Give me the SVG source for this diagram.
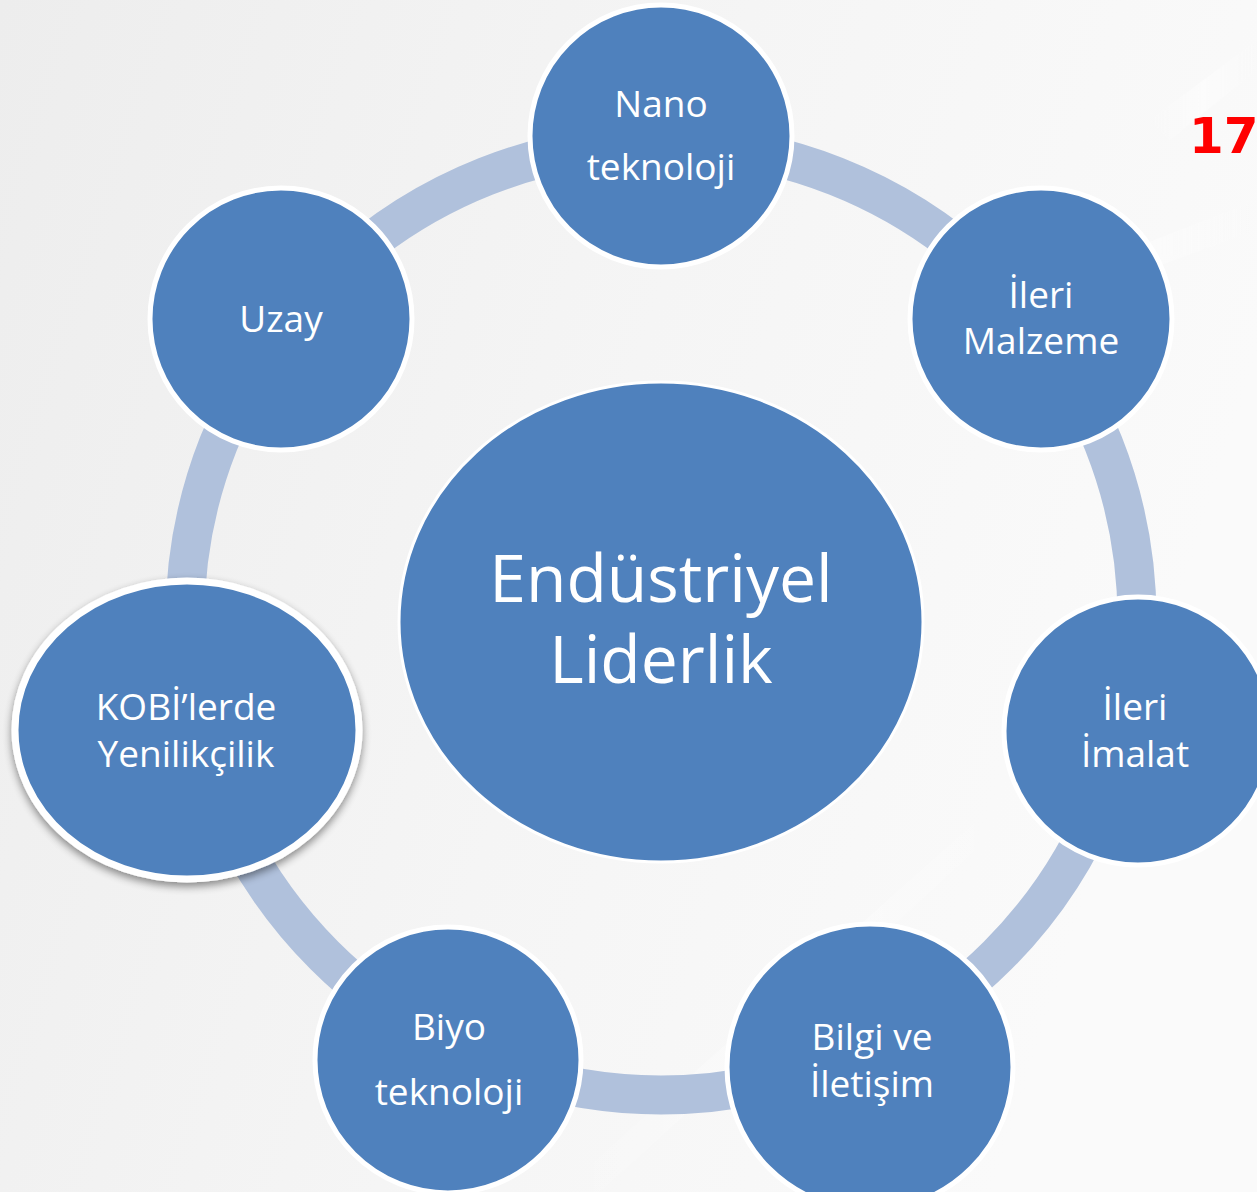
<svg xmlns="http://www.w3.org/2000/svg" width="1257" height="1192" viewBox="0 0 1257 1192">
<defs>
<linearGradient id="bg" x1="0" y1="0" x2="1" y2="0.3">
<stop offset="0" stop-color="#EDEDED"/>
<stop offset="0.55" stop-color="#F5F5F5"/>
<stop offset="1" stop-color="#FAFAFA"/>
</linearGradient>
<linearGradient id="streak" x1="0" y1="0" x2="1" y2="0">
<stop offset="0" stop-color="#FFFFFF" stop-opacity="0"/>
<stop offset="0.5" stop-color="#FFFFFF" stop-opacity="0.7"/>
<stop offset="1" stop-color="#FFFFFF" stop-opacity="0"/>
</linearGradient>
<filter id="shadow" x="-20%" y="-20%" width="140%" height="150%">
<feGaussianBlur in="SourceAlpha" stdDeviation="4"/>
<feOffset dx="0" dy="4" result="b"/>
<feComponentTransfer><feFuncA type="linear" slope="0.45"/></feComponentTransfer>
<feMerge><feMergeNode/><feMergeNode in="SourceGraphic"/></feMerge>
</filter>
</defs>
<style>
.node{fill:#4F81BD;stroke:#FFFFFF;stroke-width:5}
.lbl{font-family:"Open Sans","Noto Sans","DejaVu Sans",sans-serif;font-size:37px;fill:#FFFFFF;text-anchor:middle}
.big{font-size:66px}
.ring{fill:none;stroke:#B0C1DC;stroke-width:39}
</style>
<rect x="0" y="0" width="1257" height="1192" fill="url(#bg)"/>
<g opacity="0.6">
<path d="M1150 120 L1257 40 L1257 70 L1170 140 Z" fill="url(#streak)"/>
<path d="M1000 300 L1257 200 L1257 230 L1010 320 Z" fill="url(#streak)"/>
<path d="M560 1192 L1000 800 L1020 810 L600 1192 Z" fill="url(#streak)"/>
</g>
<g id="connectors">
<circle class="ring" cx="661" cy="619" r="476"/>
</g>
<g id="center">
<ellipse class="node" style="stroke-width:3" cx="661" cy="622" rx="262" ry="240"/>
<text class="lbl big" x="661" y="602">Endüstriyel</text>
<text class="lbl big" x="661" y="683">Liderlik</text>
</g>
<g id="nano">
<circle class="node" cx="661" cy="136" r="131"/>
<text class="lbl" x="661" y="117">Nano</text>
<text class="lbl" x="661" y="180">teknoloji</text>
</g>
<g id="malzeme">
<circle class="node" cx="1041" cy="319" r="131"/>
<text class="lbl" x="1041" y="308">İleri</text>
<text class="lbl" x="1041" y="354">Malzeme</text>
</g>
<g id="imalat">
<circle class="node" cx="1138" cy="731" r="134"/>
<text class="lbl" x="1135" y="720">İleri</text>
<text class="lbl" x="1135" y="767">İmalat</text>
</g>
<g id="bilgi">
<circle class="node" cx="870" cy="1067" r="143"/>
<text class="lbl" x="872" y="1050">Bilgi ve</text>
<text class="lbl" x="872" y="1097">İletişim</text>
</g>
<g id="biyo">
<circle class="node" cx="448" cy="1060" r="133"/>
<text class="lbl" x="449" y="1040">Biyo</text>
<text class="lbl" x="449" y="1105">teknoloji</text>
</g>
<g id="kobi">
<ellipse class="node" style="stroke-width:7" filter="url(#shadow)" cx="187" cy="730" rx="172" ry="149"/>
<text class="lbl" x="186" y="720">KOBİ’lerde</text>
<text class="lbl" x="186" y="767">Yenilikçilik</text>
</g>
<g id="uzay">
<circle class="node" cx="281" cy="319" r="131"/>
<text class="lbl" x="281" y="332">Uzay</text>
</g>
<text x="1189" y="153" font-family="'DejaVu Sans',sans-serif" font-weight="bold" font-size="50" fill="#FF0000">17</text>
</svg>
